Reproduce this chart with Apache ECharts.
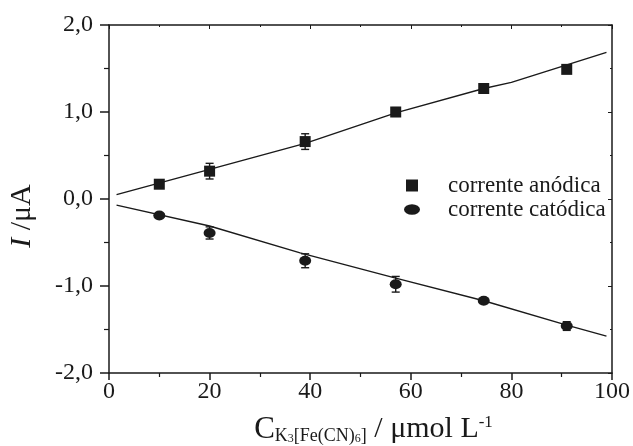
<!DOCTYPE html>
<html>
<head>
<meta charset="utf-8">
<script src="https://cdn.jsdelivr.net/npm/echarts@6/dist/echarts.min.js"></script>
<style>html,body{margin:0;padding:0;background:#fff}#c{width:633px;height:446px}</style>
</head>
<body>
<div id="c"></div>
<script>
const concentrations = [10, 20, 39, 57, 74.5, 91];
const anodic = [0.17, 0.32, 0.66, 1.0, 1.27, 1.49];
const anodicErr = [0.03, 0.09, 0.09, 0.05, 0.02, 0.03];
const cathodic = [-0.19, -0.39, -0.71, -0.98, -1.17, -1.46];
const cathodicErr = [0.02, 0.07, 0.08, 0.09, 0.02, 0.05];
const anodicFitX = [1.5, 20, 39, 57, 74.5, 80, 98.9];
const anodicFitY = [0.05, 0.34, 0.64, 0.99, 1.27, 1.34, 1.685];
const cathodicFitX = [1.5, 20, 38, 57, 74.5, 91, 98.9];
const cathodicFitY = [-0.07, -0.31, -0.62, -0.91, -1.17, -1.45, -1.576];
const seriesNames = ['corrente anódica', 'corrente catódica'];

const FONT = 'Liberation Serif';
const INK = '#1a1a1a';
const ELLIPSE = 'path://M0,6A8,6 0 1,0 16,6A8,6 0 1,0 0,6Z';

const pts = (xs, ys) => xs.map((x, i) => [x, ys[i]]);
const errPts = (xs, ys, es) => xs.map((x, i) => [x, ys[i], es[i]]);

function errRender(params, api) {
  const x = api.value(0), y = api.value(1), e = api.value(2);
  const top = api.coord([x, y + e]);
  const bot = api.coord([x, y - e]);
  const cw = 4;
  const style = { stroke: INK, lineWidth: 1.4 };
  return {
    type: 'group',
    children: [
      { type: 'line', shape: { x1: top[0], y1: top[1], x2: bot[0], y2: bot[1] }, style },
      { type: 'line', shape: { x1: top[0] - cw, y1: top[1], x2: top[0] + cw, y2: top[1] }, style },
      { type: 'line', shape: { x1: bot[0] - cw, y1: bot[1], x2: bot[0] + cw, y2: bot[1] }, style }
    ]
  };
}

const fmtY = v => v.toFixed(1).replace('.', ',');

const chart = echarts.init(document.getElementById('c'));
chart.setOption({
  animation: false,
  backgroundColor: '#fff',
  textStyle: { fontFamily: FONT, color: INK },
  grid: { left: 109, right: 21, top: 25, bottom: 73, containLabel: false, outerBoundsMode: 'none' },
  legend: {
    orient: 'vertical',
    left: 399, top: 169,
    itemWidth: 16, itemHeight: 12, itemGap: 1,
    symbolKeepAspect: true,
    selectedMode: false,
    textStyle: { fontFamily: FONT, fontSize: 23, color: INK, padding: [0, 0, 0, 23] },
    data: [
      { name: seriesNames[0], icon: 'path://M0,0H10V10H0Z' },
      { name: seriesNames[1], icon: 'path://M0,4.5A7,4.5 0 1,0 14,4.5A7,4.5 0 1,0 0,4.5Z' }
    ]
  },
  xAxis: [{
    type: 'value', min: 0, max: 100, interval: 20,
    position: 'bottom',
    axisLine: { onZero: false, lineStyle: { color: INK, width: 1.5 } },
    axisTick: { inside: false, length: 7, lineStyle: { color: INK, width: 1.5 } },
    minorTick: { show: true, splitNumber: 2, length: 4, lineStyle: { color: INK, width: 1.2 } },
    splitLine: { show: false },
    axisLabel: { fontFamily: FONT, fontSize: 24, color: INK, margin: 7 },
    name: '{c|C}{s|K}{ss|3}{s|[Fe(CN)}{ss|6}{s|]}{m| / μmol L}{sup|-1}',
    nameLocation: 'middle', nameGap: 41,
    nameTextStyle: {
      padding: [0, 0, 0, 26],
      rich: {
        c: { fontFamily: FONT, fontSize: 31, color: INK, verticalAlign: 'top', lineHeight: 31 },
        m: { fontFamily: FONT, fontSize: 30, color: INK, verticalAlign: 'top', lineHeight: 31 },
        s: { fontFamily: FONT, fontSize: 18, color: INK, verticalAlign: 'bottom', lineHeight: 18 },
        ss: { fontFamily: FONT, fontSize: 12, color: INK, verticalAlign: 'bottom', lineHeight: 12 },
        sup: { fontFamily: FONT, fontSize: 17, color: INK, verticalAlign: 'top', lineHeight: 17 }
      }
    }
  }, {
    type: 'value', min: 0, max: 100, interval: 20,
    position: 'top',
    axisLine: { onZero: false, lineStyle: { color: INK, width: 1.5 } },
    axisTick: { inside: true, length: 4, lineStyle: { color: INK, width: 1 } },
    minorTick: { show: true, splitNumber: 2, length: 2, lineStyle: { color: INK, width: 1 } },
    splitLine: { show: false },
    axisLabel: { show: false }
  }],
  yAxis: [{
    type: 'value', min: -2, max: 2, interval: 1,
    position: 'left',
    axisLine: { onZero: false, lineStyle: { color: INK, width: 1.5 } },
    axisTick: { inside: false, length: 9, lineStyle: { color: INK, width: 1.5 } },
    minorTick: { show: true, splitNumber: 2, length: 5, lineStyle: { color: INK, width: 1.2 } },
    splitLine: { show: false },
    axisLabel: { fontFamily: FONT, fontSize: 24, color: INK, margin: 16, formatter: fmtY },
    name: '{i|I} /μA',
    nameLocation: 'middle', nameGap: 72,
    nameTextStyle: {
      fontFamily: FONT, fontSize: 30, color: INK,
      padding: [0, 34, 0, 0],
      rich: { i: { fontFamily: FONT, fontSize: 30, fontStyle: 'italic', color: INK } }
    }
  }, {
    type: 'value', min: -2, max: 2, interval: 1,
    position: 'right',
    axisLine: { onZero: false, lineStyle: { color: INK, width: 1.5 } },
    axisTick: { inside: true, length: 4, lineStyle: { color: INK, width: 1 } },
    minorTick: { show: true, splitNumber: 2, length: 2, lineStyle: { color: INK, width: 1 } },
    splitLine: { show: false },
    axisLabel: { show: false }
  }],
  series: [
    {
      name: 'ajuste anódico', type: 'line', xAxisIndex: 0, yAxisIndex: 0,
      data: pts(anodicFitX, anodicFitY), showSymbol: false, symbol: 'none',
      lineStyle: { color: INK, width: 1.4 }, z: 2
    },
    {
      name: 'ajuste catódico', type: 'line', xAxisIndex: 0, yAxisIndex: 0,
      data: pts(cathodicFitX, cathodicFitY), showSymbol: false, symbol: 'none',
      lineStyle: { color: INK, width: 1.4 }, z: 2
    },
    {
      name: 'erro anódico', type: 'custom', renderItem: errRender,
      data: errPts(concentrations, anodic, anodicErr), z: 3
    },
    {
      name: 'erro catódico', type: 'custom', renderItem: errRender,
      data: errPts(concentrations, cathodic, cathodicErr), z: 3
    },
    {
      name: seriesNames[0], type: 'scatter',
      data: pts(concentrations, anodic),
      symbol: 'rect', symbolSize: 11,
      itemStyle: { color: INK, opacity: 1 }, z: 4
    },
    {
      name: seriesNames[1], type: 'scatter',
      data: pts(concentrations, cathodic),
      symbol: ELLIPSE, symbolSize: [12, 10],
      itemStyle: { color: INK, opacity: 1 }, z: 4
    }
  ]
});
</script>
</body>
</html>
